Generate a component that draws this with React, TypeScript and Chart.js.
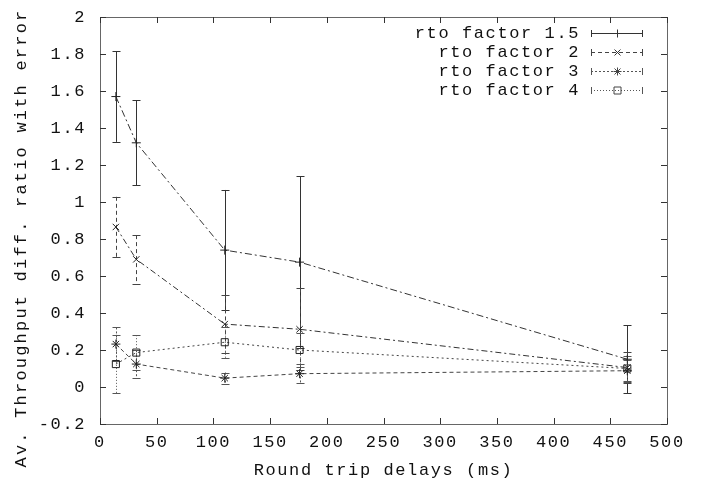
import React, { useEffect, useRef } from 'react';
import { Chart, registerables } from 'chart.js';

Chart.register(...registerables);

const delays = [14, 32, 110, 176, 465];
const seriesLabels = ['rto factor 1.5', 'rto factor 2', 'rto factor 3', 'rto factor 4'];
const rto15 = [1.57, 1.32, 0.74, 0.675, 0.15];
const rto15Err = [0.245, 0.23, 0.325, 0.465, 0.185];
const rto2 = [0.865, 0.69, 0.34, 0.312, 0.105];
const rto2Err = [0.163, 0.131, 0.155, 0.221, 0.085];
const rto3 = [0.232, 0.124, 0.048, 0.072, 0.088];
const rto3Err = [0.09, 0.075, 0.03, 0.05, 0.06];
const rto4 = [0.124, 0.186, 0.242, 0.2, 0.1];
const rto4Err = [0.158, 0.094, 0.084, 0.09, 0.07];
const yTitle = 'Av. Throughput diff. ratio with error';
const xTitle = 'Round trip delays (ms)';

const seriesValues = [rto15, rto2, rto3, rto4];
const seriesErrors = [rto15Err, rto2Err, rto3Err, rto4Err];

const FONT = 'Liberation Mono';
const FSIZE = 17;
const LS = '1.6px';

const styles = [
  { line: [7, 3, 2, 3], err: [] as number[], point: 'cross', color: '#333', errColor: '#333' },
  { line: [6, 3, 2, 3], err: [4, 3], point: 'crossRot', color: '#333', errColor: '#444' },
  { line: [4, 3], err: [2, 2], point: 'star', color: '#444', errColor: '#555' },
  { line: [2, 3], err: [1, 2], point: 'rect', color: '#444', errColor: '#555' },
];

function drawMarker(ctx: CanvasRenderingContext2D, kind: string, x: number, y: number, r: number) {
  ctx.beginPath();
  if (kind === 'cross' || kind === 'star') {
    ctx.moveTo(x - r, y); ctx.lineTo(x + r, y);
    ctx.moveTo(x, y - r); ctx.lineTo(x, y + r);
  }
  if (kind === 'crossRot' || kind === 'star') {
    const d = r * 0.75;
    ctx.moveTo(x - d, y - d); ctx.lineTo(x + d, y + d);
    ctx.moveTo(x - d, y + d); ctx.lineTo(x + d, y - d);
  }
  if (kind === 'rect') {
    ctx.rect(x - 3.5, y - 3.5, 7, 7);
  }
  ctx.stroke();
}

const gnuplotPlugin = {
  id: 'gnuplotLook',
  beforeLayout(chart: any) {
    chart.ctx.letterSpacing = LS;
  },
  beforeDraw(chart: any) {
    chart.ctx.letterSpacing = LS;
  },
  beforeDatasetsDraw(chart: any) {
    const { ctx, scales } = chart;
    const xs = scales.x, ys = scales.y;
    seriesValues.forEach((vals, i) => {
      const errs = seriesErrors[i];
      const st = styles[i];
      ctx.save();
      ctx.strokeStyle = st.errColor;
      ctx.lineWidth = 1;
      vals.forEach((v, j) => {
        const px = Math.round(xs.getPixelForValue(delays[j])) + 0.5;
        const top = ys.getPixelForValue(v + errs[j]);
        const bot = ys.getPixelForValue(v - errs[j]);
        ctx.setLineDash(st.err);
        ctx.beginPath();
        ctx.moveTo(px, top); ctx.lineTo(px, bot);
        ctx.stroke();
        ctx.setLineDash([]);
        ctx.beginPath();
        ctx.moveTo(px - 4, Math.round(top) + 0.5); ctx.lineTo(px + 4, Math.round(top) + 0.5);
        ctx.moveTo(px - 4, Math.round(bot) + 0.5); ctx.lineTo(px + 4, Math.round(bot) + 0.5);
        ctx.stroke();
      });
      ctx.restore();
    });
  },
  afterDraw(chart: any) {
    const { ctx, chartArea, scales } = chart;
    const { left, right, top, bottom } = chartArea;
    ctx.save();
    ctx.strokeStyle = '#666';
    ctx.lineWidth = 1;
    ctx.setLineDash([]);
    ctx.strokeRect(Math.round(left) + 0.5, Math.round(top) + 0.5, Math.round(right - left), Math.round(bottom - top));
    ctx.strokeStyle = '#333';
    ctx.beginPath();
    scales.x.ticks.forEach((t: any) => {
      const px = Math.round(scales.x.getPixelForValue(t.value)) + 0.5;
      ctx.moveTo(px, bottom); ctx.lineTo(px, bottom - 6);
      ctx.moveTo(px, top); ctx.lineTo(px, top + 6);
    });
    scales.y.ticks.forEach((t: any) => {
      const py = Math.round(scales.y.getPixelForValue(t.value)) + 0.5;
      ctx.moveTo(left, py); ctx.lineTo(left + 6, py);
      ctx.moveTo(right, py); ctx.lineTo(right - 6, py);
    });
    ctx.stroke();

    ctx.fillStyle = '#111';
    ctx.font = `${FSIZE}px "${FONT}"`;
    ctx.letterSpacing = '2.2px';
    ctx.save();
    ctx.translate(21, 238);
    ctx.rotate(-Math.PI / 2);
    ctx.textAlign = 'center';
    ctx.textBaseline = 'middle';
    ctx.fillText(yTitle, 0, 0);
    ctx.restore();

    ctx.letterSpacing = LS;
    ctx.textAlign = 'right';
    ctx.textBaseline = 'middle';
    const rowY = [33, 52, 71, 90];
    seriesLabels.forEach((lab, i) => {
      const y = rowY[i];
      const st = styles[i];
      ctx.fillStyle = '#111';
      ctx.fillText(lab, 580, y);
      ctx.strokeStyle = st.errColor;
      ctx.setLineDash(st.err);
      ctx.beginPath();
      ctx.moveTo(591, y + 0.5); ctx.lineTo(643, y + 0.5);
      ctx.stroke();
      ctx.setLineDash([]);
      ctx.beginPath();
      ctx.moveTo(591.5, y - 3); ctx.lineTo(591.5, y + 4);
      ctx.moveTo(642.5, y - 3); ctx.lineTo(642.5, y + 4);
      ctx.stroke();
      ctx.strokeStyle = st.color;
      drawMarker(ctx, st.point, 617.5, y + 0.5, 4);
    });
    ctx.restore();
  },
};

export default function App() {
  const ref = useRef<HTMLCanvasElement | null>(null);
  useEffect(() => {
    if (!ref.current) return;
    const datasets = seriesValues.map((vals, i) => ({
      label: seriesLabels[i],
      data: vals.map((v, j) => ({ x: delays[j], y: v })),
      borderColor: styles[i].color,
      backgroundColor: 'rgba(0,0,0,0)',
      borderWidth: 1,
      borderDash: styles[i].line,
      pointStyle: styles[i].point,
      pointRadius: styles[i].point === 'rect' ? 5 : 4.5,
      pointBorderColor: '#222',
      pointBorderWidth: 1,
      pointBackgroundColor: 'rgba(0,0,0,0)',
      tension: 0,
      fill: false,
      showLine: true,
    }));
    const tickFont = { family: FONT, size: FSIZE };
    const chart = new Chart(ref.current, {
      type: 'scatter',
      data: { datasets },
      options: {
        animation: false,
        responsive: true,
        maintainAspectRatio: false,
        layout: { autoPadding: false, padding: { left: 0, top: 17, right: 38, bottom: 0 } },
        plugins: { legend: { display: false }, tooltip: { enabled: false } },
        scales: {
          x: {
            type: 'linear',
            min: 0,
            max: 500,
            ticks: { stepSize: 50, padding: 8, color: '#111', font: tickFont, maxRotation: 0, autoSkip: false },
            grid: { display: false, drawTicks: false },
            border: { display: false },
            title: { display: true, text: xTitle, color: '#111', font: tickFont, padding: { top: 0, bottom: 4 } },
            afterFit: (s: any) => { s.height = 61; s.paddingLeft = 0; s.paddingRight = 0; s.paddingTop = 0; s.paddingBottom = 0; },
          },
          y: {
            type: 'linear',
            min: -0.2,
            max: 2,
            ticks: {
              stepSize: 0.2,
              padding: 14,
              color: '#111',
              font: tickFont,
              autoSkip: false,
              callback: (v: any) => String(Math.round(Number(v) * 10) / 10),
            },
            grid: { display: false, drawTicks: false },
            border: { display: false },
            afterFit: (s: any) => { s.width = 100; s.paddingLeft = 0; s.paddingRight = 0; s.paddingTop = 0; s.paddingBottom = 0; },
          },
        },
      } as any,
      plugins: [gnuplotPlugin],
    });
    return () => chart.destroy();
  }, []);
  return (
    <div style={{ position: 'fixed', left: 0, top: 0, width: 705, height: 485, background: '#fff' }}>
      <canvas ref={ref} />
    </div>
  );
}
